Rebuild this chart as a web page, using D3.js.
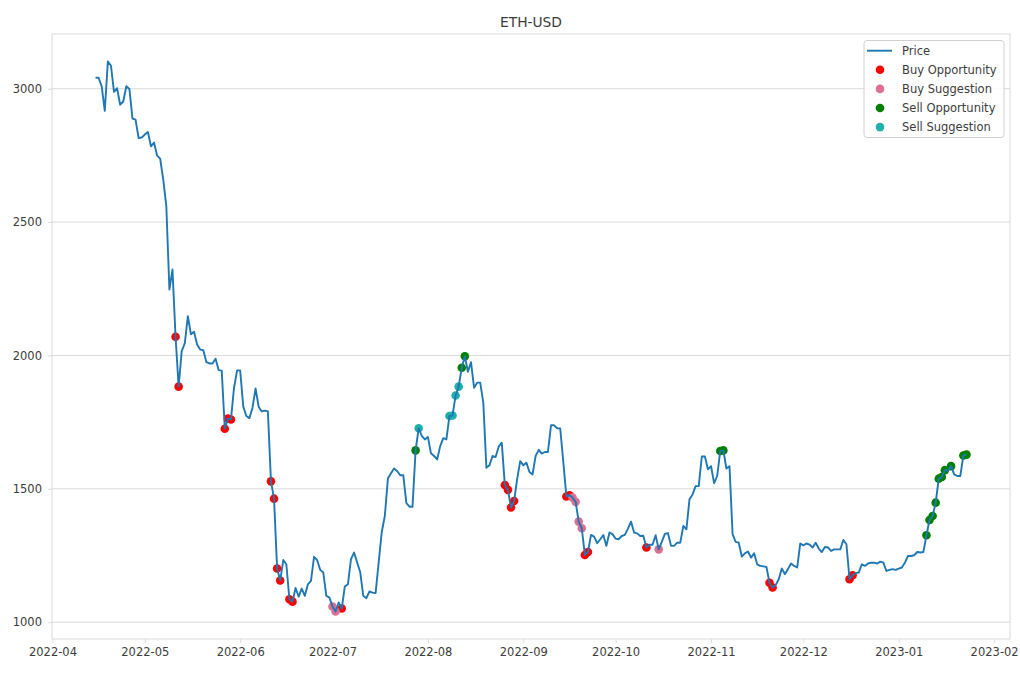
<!DOCTYPE html>
<html>
<head>
<meta charset="utf-8">
<script src="https://cdnjs.cloudflare.com/ajax/libs/d3/7.8.5/d3.min.js"></script>
<style>
  body { margin: 0; background: #fff; }
  text { font-family: "DejaVu Sans", sans-serif; }
</style>
</head>
<body>
<div id="chart"></div>
<script>
// daily closes, one per day from startDate
var startDate = "2022-04-15";
var prices = [
  3041, 3041, 3009, 2917, 3102, 3087, 2988, 3002, 2940, 2952,
  3009, 2999, 2888, 2884, 2815, 2817, 2828, 2838, 2784, 2798,
  2749, 2738, 2659, 2559, 2247, 2322, 2070, 1883, 2016, 2045,
  2147, 2079, 2089, 2041, 2022, 2020, 1975, 1970, 1970, 1988,
  1945, 1943, 1725, 1763, 1760, 1879, 1944, 1944, 1808, 1773,
  1765, 1804, 1876, 1808, 1790, 1793, 1790, 1528, 1463, 1201,
  1156, 1233, 1217, 1086, 1077, 1128, 1096, 1126, 1099, 1142,
  1155, 1245, 1233, 1196, 1186, 1099, 1092, 1059, 1040, 1074,
  1051, 1134, 1142, 1236, 1261, 1224, 1188, 1099, 1090, 1115,
  1111, 1109, 1224, 1338, 1398, 1539, 1558, 1576, 1567, 1551,
  1551, 1446, 1433, 1433, 1644, 1727, 1698, 1685, 1694, 1633,
  1623, 1610, 1660, 1690, 1685, 1773, 1775, 1850, 1883, 1954,
  1997, 1939, 1975, 1879, 1898, 1898, 1823, 1579, 1588, 1623,
  1619, 1658, 1673, 1514, 1496, 1430, 1454, 1536, 1604, 1588,
  1598, 1563, 1554, 1623, 1646, 1632, 1638, 1638, 1738, 1738,
  1727, 1726, 1600, 1471, 1476, 1467, 1451, 1377, 1352, 1252,
  1263, 1327, 1321, 1296, 1311, 1327, 1286, 1336, 1330, 1313,
  1311, 1323, 1327, 1351, 1377, 1336, 1333, 1323, 1324, 1280,
  1290, 1290, 1326, 1273, 1301, 1331, 1334, 1286, 1286, 1298,
  1298, 1361, 1348, 1461, 1479, 1510, 1510, 1621, 1621, 1573,
  1585, 1521, 1548, 1642, 1644, 1576, 1585, 1330, 1301, 1298,
  1246, 1258, 1265, 1242, 1258, 1217, 1211, 1209, 1207, 1148,
  1130, 1139, 1161, 1201, 1180, 1199, 1220, 1211, 1205, 1295,
  1288, 1295, 1291, 1280, 1298, 1276, 1263, 1282, 1280, 1267,
  1273, 1273, 1273, 1308, 1292, 1161, 1176, 1184, 1186, 1217,
  1211, 1220, 1223, 1223, 1220, 1227, 1223, 1192, 1196, 1199,
  1196, 1201, 1205, 1223, 1248, 1248, 1251, 1263, 1261, 1263,
  1326, 1383, 1398, 1448, 1538, 1544, 1570, 1567, 1585, 1554,
  1548, 1548, 1625, 1628
];

var buyOpportunity = ["2022-05-11", "2022-05-12", "2022-05-27", "2022-05-28", "2022-05-29",
  "2022-06-11", "2022-06-12", "2022-06-13", "2022-06-14", "2022-06-17", "2022-06-18",
  "2022-07-04", "2022-08-26", "2022-08-27", "2022-08-28", "2022-08-29",
  "2022-09-15", "2022-09-16", "2022-09-21", "2022-09-22", "2022-10-11",
  "2022-11-20", "2022-11-21", "2022-12-16", "2022-12-17"];
var buySuggestion = ["2022-07-01", "2022-07-02", "2022-09-17", "2022-09-18", "2022-09-19",
  "2022-09-20", "2022-10-15"];
var sellOpportunity = ["2022-07-28", "2022-08-12", "2022-08-13", "2022-11-04", "2022-11-05",
  "2023-01-10", "2023-01-11", "2023-01-12", "2023-01-13", "2023-01-14", "2023-01-15",
  "2023-01-16", "2023-01-18", "2023-01-22", "2023-01-23"];
var sellSuggestion = ["2022-07-29", "2022-08-08", "2022-08-09", "2022-08-10", "2022-08-11"];

var yTicks = [1000, 1500, 2000, 2500, 3000];

var svgWidth = 1020;
var svgHeight = 680;
var margin = { top: 34, right: 10, bottom: 41, left: 52 };
var width = svgWidth - margin.left - margin.right;
var height = svgHeight - margin.top - margin.bottom;

var gridColor = "#dadada";
var textColor = "#3c3c3c";

var svg = d3.select("#chart")
  .append("svg")
  .attr("width", svgWidth)
  .attr("height", svgHeight);

var chartGroup = svg.append("g")
  .attr("transform", `translate(${margin.left}, ${margin.top})`);

// Step 1: build the series
var parseDate = d3.utcParse("%Y-%m-%d");
var t0 = parseDate(startDate);
var data = prices.map(function(p, i) {
  return { date: d3.utcDay.offset(t0, i), price: p };
});
var byKey = {};
data.forEach(function(d) { byKey[d3.utcFormat("%Y-%m-%d")(d.date)] = d; });

// Step 2: scales with 5% padding like matplotlib
var xExt = d3.extent(data, d => d.date);
var xPad = (xExt[1] - xExt[0]) * 0.05;
var xScale = d3.scaleUtc()
  .domain([new Date(+xExt[0] - xPad), new Date(+xExt[1] + xPad)])
  .range([0, width]);

var yExt = d3.extent(data, d => d.price);
var yPad = (yExt[1] - yExt[0]) * 0.05;
var yScale = d3.scaleLinear()
  .domain([yExt[0] - yPad, yExt[1] + yPad])
  .range([height, 0]);

// Step 3: horizontal grid only
var xTickDates = d3.utcMonth.range(d3.utcMonth.ceil(xScale.domain()[0]), xScale.domain()[1]);

chartGroup.append("g")
  .selectAll("line")
  .data(yTicks)
  .enter()
  .append("line")
  .attr("x1", 0)
  .attr("x2", width)
  .attr("y1", d => yScale(d))
  .attr("y2", d => yScale(d))
  .attr("stroke", gridColor)
  .attr("stroke-width", 1);

// Step 4: axes
var xAxis = d3.axisBottom(xScale)
  .tickValues(xTickDates)
  .tickFormat(d3.utcFormat("%Y-%m"))
  .tickSize(4)
  .tickPadding(5);
var yAxis = d3.axisLeft(yScale)
  .tickValues(yTicks)
  .tickFormat(d3.format("d"))
  .tickSize(4)
  .tickPadding(6);

var xAxisG = chartGroup.append("g")
  .attr("transform", `translate(0, ${height})`)
  .call(xAxis);
var yAxisG = chartGroup.append("g")
  .call(yAxis);

[xAxisG, yAxisG].forEach(function(g) {
  g.select(".domain").remove();
  g.selectAll(".tick line").attr("stroke", gridColor);
  g.selectAll(".tick text")
    .attr("fill", textColor)
    .style("font-size", "11.5px")
    .style("font-family", "DejaVu Sans");
});

// frame
chartGroup.append("rect")
  .attr("x", 0)
  .attr("y", 0)
  .attr("width", width)
  .attr("height", height)
  .attr("fill", "none")
  .attr("stroke", gridColor)
  .attr("stroke-width", 1);

// Step 5: signal markers (drawn under the line)
var groups = [
  { name: "Buy Opportunity", color: "#ff0000", dates: buyOpportunity },
  { name: "Buy Suggestion", color: "#db7093", dates: buySuggestion },
  { name: "Sell Opportunity", color: "#008000", dates: sellOpportunity },
  { name: "Sell Suggestion", color: "#20b2aa", dates: sellSuggestion }
];

groups.forEach(function(g) {
  chartGroup.append("g")
    .selectAll("circle")
    .data(g.dates.map(k => byKey[k]))
    .enter()
    .append("circle")
    .attr("cx", d => xScale(d.date))
    .attr("cy", d => yScale(d.price))
    .attr("r", 4.3)
    .attr("fill", g.color);
});

// Step 6: price line
var line = d3.line()
  .x(d => xScale(d.date))
  .y(d => yScale(d.price));

chartGroup.append("path")
  .datum(data)
  .attr("d", line)
  .attr("fill", "none")
  .attr("stroke", "#1f77b4")
  .attr("stroke-width", 1.9)
  .attr("stroke-linejoin", "round");

// title
svg.append("text")
  .attr("x", margin.left + width / 2)
  .attr("y", 22)
  .attr("text-anchor", "middle")
  .attr("dominant-baseline", "central")
  .attr("fill", textColor)
  .style("font-size", "13.8px")
  .text("ETH-USD");

// Step 7: legend
var legend = svg.append("g")
  .attr("transform", "translate(864, 40.5)");

legend.append("rect")
  .attr("width", 140)
  .attr("height", 97)
  .attr("rx", 3)
  .attr("fill", "white")
  .attr("fill-opacity", 0.85)
  .attr("stroke", "#d0d0d0");

var rowY = d3.range(5).map(i => 10.2 + i * 19.1);

legend.append("line")
  .attr("x1", 3)
  .attr("x2", 28)
  .attr("y1", rowY[0])
  .attr("y2", rowY[0])
  .attr("stroke", "#1f77b4")
  .attr("stroke-width", 1.9);

legend.append("text")
  .attr("x", 38)
  .attr("y", rowY[0])
  .attr("dominant-baseline", "central")
  .attr("fill", textColor)
  .style("font-size", "11.5px")
  .text("Price");

groups.forEach(function(g, i) {
  legend.append("circle")
    .attr("cx", 16)
    .attr("cy", rowY[i + 1])
    .attr("r", 4.3)
    .attr("fill", g.color);
  legend.append("text")
    .attr("x", 38)
    .attr("y", rowY[i + 1])
    .attr("dominant-baseline", "central")
    .attr("fill", textColor)
    .style("font-size", "11.5px")
    .text(g.name);
});
</script>
</body>
</html>
